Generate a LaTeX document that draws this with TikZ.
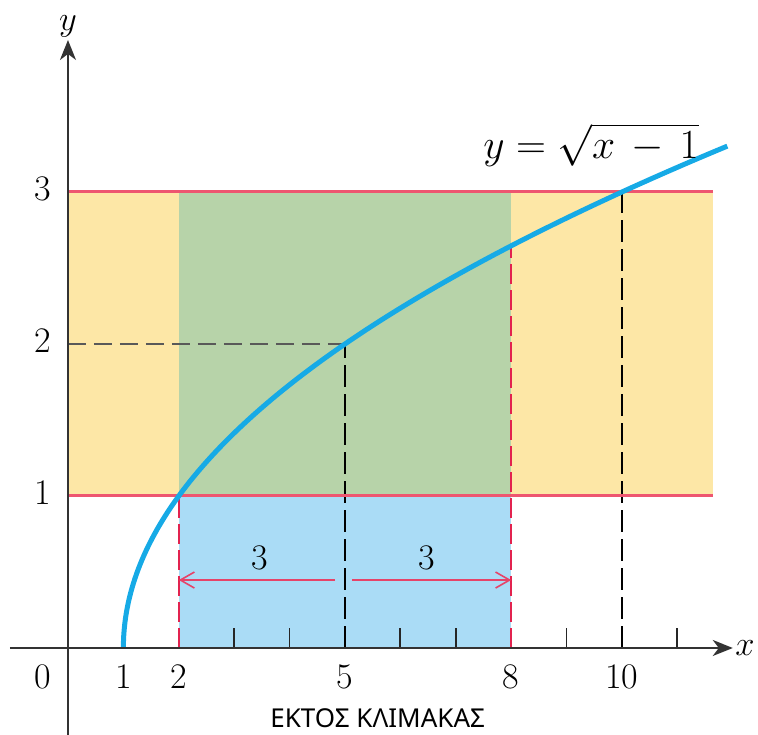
\documentclass[tikz,border=0pt]{standalone}
\usepackage{fontspec}
\newfontfamily\grk{Noto Sans}
\usetikzlibrary{arrows.meta}
\definecolor{yel}{HTML}{FDE7A6}
\definecolor{grn}{HTML}{B7D3A9}
\definecolor{blu}{HTML}{AADCF6}
\definecolor{crv}{HTML}{16AAE6}
\definecolor{pnk}{HTML}{EE5670}
\definecolor{rdd}{HTML}{E2234F}
\begin{document}
\begin{tikzpicture}[x=27.7pt,y=76pt,font=\fontsize{18}{20}\selectfont,
  axisline/.style={line width=1pt,black!80,-{Stealth[length=10pt,width=8pt,inset=3pt]}},
  tickmark/.style={line width=0.9pt,black!85},
  hline/.style={line width=1.5pt,pnk},
  reddash/.style={line width=0.9pt,rdd,dash pattern=on 10pt off 3pt},
  blackdash/.style={line width=0.9pt,black,dash pattern=on 11pt off 3.5pt},
  greydash/.style={line width=1.1pt,black!65,dash pattern=on 9pt off 4pt},
  redarrow/.style={line width=0.8pt,rdd!85,-{Straight Barb[length=7pt,width=8pt]}},
  curve/.style={line width=2.5pt,crv},
  lbl/.style={inner sep=0pt}]
\useasboundingbox (-1.227,-0.572) rectangle (12.455,4.263);
% regions
\fill[yel] (0,1) rectangle (11.64,3);
\fill[grn] (2,1) rectangle (8,3);
\fill[blu] (2,0) rectangle (8,1);
% coordinates
\coordinate (O) at (0,0);
\coordinate (A2) at (2,0);
\coordinate (B2) at (2,1);
\coordinate (A5) at (5,0);
\coordinate (B5) at (5,2);
\coordinate (Y2) at (0,2);
\coordinate (A8) at (8,0);
\coordinate (B8) at (8,{sqrt(7)});
\coordinate (A10) at (10,0);
\coordinate (B10) at (10,3);
\coordinate (H1a) at (0,1);
\coordinate (H1b) at (11.64,1);
\coordinate (H3a) at (0,3);
\coordinate (H3b) at (11.64,3);
\coordinate (XL) at (-1.05,0);
\coordinate (XR) at (12.0,0);
\coordinate (YB) at (0,-0.6);
\coordinate (YT) at (0,4.0);
\coordinate (L1) at (4.82,0.447);
\coordinate (L2) at (2,0.447);
\coordinate (R1) at (5.13,0.447);
\coordinate (R2) at (8,0.447);
% ticks
\foreach \i in {1,...,11} \draw[tickmark] (\i,0) -- (\i,0.13);
% dashed guides
\draw[reddash] (A2) -- (B2);
\draw[reddash] (A8) -- (B8);
\draw[blackdash] (A5) -- (B5);
\draw[blackdash] (A10) -- (B10);
\draw[greydash] (Y2) -- (B5);
% horizontal bounds
\draw[hline] (H1a) -- (H1b);
\draw[hline] (H3a) -- (H3b);
% arrows
\draw[redarrow] (L1) -- (L2);
\draw[redarrow] (R1) -- (R2);
\node[lbl] (t3a) at (3.47,0.59) {3};
\node[lbl] (t3b) at (6.48,0.59) {3};
% curve
\draw[curve] plot[domain=0:3.302,samples=80,smooth] ({1+\x*\x},{\x});
% axes
\draw[axisline] (XL) -- (XR);
\draw[axisline] (YB) -- (YT);
% labels
\node[lbl] (xlab) at (12.22,0.0) {$x$};
\node[lbl] (ylab) at (0,4.09) {$y$};
\node[lbl] (x0) at (-0.45,-0.19) {0};
\node[lbl] (x1) at (1,-0.19) {1};
\node[lbl] (x2) at (2,-0.19) {2};
\node[lbl] (x5) at (5,-0.19) {5};
\node[lbl] (x8) at (8,-0.19) {8};
\node[lbl] (x10) at (10,-0.19) {10};
\node[lbl] (y1) at (-0.45,1.02) {1};
\node[lbl] (y2) at (-0.45,2.02) {2};
\node[lbl] (y3) at (-0.45,3.02) {3};
\node[lbl,font=\fontsize{21}{23}\selectfont] (eq) at (9.44,3.31) {$y=\sqrt{x\,-\,1}$};
\node[lbl,font=\grk\fontsize{13}{15}\selectfont] (scale) at (5.59,-0.465) {ΕΚΤΟΣ ΚΛΙΜΑΚΑΣ};
\end{tikzpicture}
\end{document}
